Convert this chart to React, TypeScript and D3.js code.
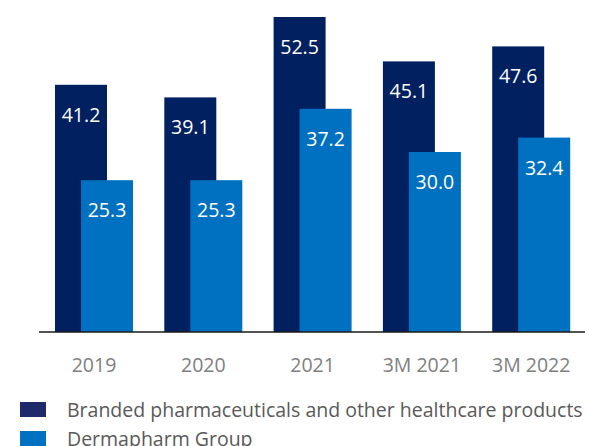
import React from 'react';
import * as d3 from 'd3';

const categories = ['2019', '2020', '2021', '3M 2021', '3M 2022'];
const brandedValues = [41.2, 39.1, 52.5, 45.1, 47.6];
const groupValues = [25.3, 25.3, 37.2, 30.0, 32.4];
const legendLabels = ['Branded pharmaceuticals and other healthcare products', 'Dermapharm Group'];

const DARK = '#002060';
const LIGHT = '#0070c0';
const FONT = '"Open Sans", "Noto Sans", sans-serif';

const App: React.FC = () => {
  const width = 589;
  const height = 446;
  const baseline = 332;

  // band start = left edge of dark bar in each group
  const x = d3.scaleBand<string>().domain(categories).range([55, 601.5]).padding(0);
  const y = d3.scaleLinear().domain([0, 55]).range([baseline, 2]);
  const barW = 52;
  const offset = 26;

  const darkX = (c: string) => x(c) as number;
  const lightX = (c: string) => darkX(c) + offset;
  const groupCenter = (c: string) => darkX(c) + (barW + offset) / 2;

  return (
    <svg width={width} height={height} style={{ position: 'absolute', left: 0, top: 0 }}>
      {categories.map((c, i) => (
        <g key={c}>
          <rect x={darkX(c)} y={y(brandedValues[i])} width={barW} height={baseline - y(brandedValues[i])} fill={DARK} />
          <rect x={lightX(c)} y={y(groupValues[i])} width={barW} height={baseline - y(groupValues[i])} fill={LIGHT} />
          <text x={darkX(c) + barW / 2} y={y(brandedValues[i]) + 37} textAnchor="middle" fill="#fff" fontSize={19.5} fontFamily={FONT}>
            {brandedValues[i].toFixed(1)}
          </text>
          <text x={lightX(c) + barW / 2} y={y(groupValues[i]) + 37} textAnchor="middle" fill="#fff" fontSize={19.5} fontFamily={FONT}>
            {groupValues[i].toFixed(1)}
          </text>
          <text x={groupCenter(c)} y={372} textAnchor="middle" fill="#808080" fontSize={19.5} fontFamily={FONT}>
            {c}
          </text>
        </g>
      ))}
      <line x1={39} x2={585} y1={baseline} y2={baseline} stroke="#1a1a1a" strokeWidth={1.5} />
      {legendLabels.map((l, i) => (
        <g key={l}>
          <rect x={20} y={402 + i * 29} width={26} height={15} fill={i === 0 ? '#1f2a6b' : LIGHT} />
          <text x={67} y={417 + i * 29} fill="#595959" fontSize={19.5} fontFamily={FONT}>
            {l}
          </text>
        </g>
      ))}
    </svg>
  );
};

export default App;
